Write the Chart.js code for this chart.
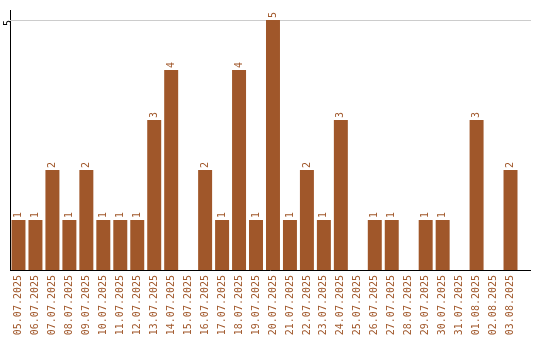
<!DOCTYPE html>
<html>
<head>
<meta charset="utf-8">
<script src="https://cdn.jsdelivr.net/npm/chart.js@4/dist/chart.umd.min.js"></script>
<style>
  html, body { margin: 0; padding: 0; background: #fff; }
  #wrap { width: 540px; height: 340px; }
</style>
</head>
<body>
<div id="wrap"><canvas id="myChart"></canvas></div>
<script>
var days = ["05.07.2025", "06.07.2025", "07.07.2025", "08.07.2025", "09.07.2025",
    "10.07.2025", "11.07.2025", "12.07.2025", "13.07.2025", "14.07.2025",
    "15.07.2025", "16.07.2025", "17.07.2025", "18.07.2025", "19.07.2025",
    "20.07.2025", "21.07.2025", "22.07.2025", "23.07.2025", "24.07.2025",
    "25.07.2025", "26.07.2025", "27.07.2025", "28.07.2025", "29.07.2025",
    "30.07.2025", "31.07.2025", "01.08.2025", "02.08.2025", "03.08.2025"];
var counts = [1, 1, 2, 1, 2, 1, 1, 1, 3, 4,
    0, 2, 1, 4, 1, 5, 1, 2, 1, 3,
    0, 1, 1, 0, 1, 1, 0, 3, 0, 2];
var yTicks = [5];

var brown = '#A0572A';
var mono = "'DejaVu Sans Mono', 'Liberation Mono', monospace";

// grid line at 5 and x axis line run a bit past the last bar, like the original
var linesPlugin = {
    id: 'lines',
    beforeDatasetsDraw: function (chart) {
        var c = chart.ctx, area = chart.chartArea, y = chart.scales.y;
        c.save();
        c.lineWidth = 1;
        c.strokeStyle = '#cccccc';
        yTicks.forEach(function (t) {
            var py = Math.round(y.getPixelForValue(t)) + 0.5;
            c.beginPath();
            c.moveTo(area.left, py);
            c.lineTo(area.right + 12, py);
            c.stroke();
        });
        c.strokeStyle = '#000';
        var by = Math.round(y.getPixelForValue(0)) + 0.5;
        c.beginPath();
        c.moveTo(area.left, by);
        c.lineTo(area.right + 12, by);
        c.stroke();
        c.restore();
    }
};

// value labels above each bar, turned upright
var valuesPlugin = {
    id: 'values',
    afterDatasetsDraw: function (chart) {
        var c = chart.ctx;
        var meta = chart.getDatasetMeta(0);
        c.save();
        c.fillStyle = brown;
        c.font = '10px ' + mono;
        c.textAlign = 'left';
        c.textBaseline = 'middle';
        meta.data.forEach(function (bar, i) {
            if (!counts[i]) return;
            c.save();
            c.translate(bar.x, bar.y - 2);
            c.rotate(-Math.PI / 2);
            c.fillText(String(counts[i]), 0, 0);
            c.restore();
        });
        c.restore();
    }
};

var ctx = document.getElementById("myChart");
var myChart = new Chart(ctx, {
    type: 'bar',
    data: {
        labels: days,
        datasets: [{
            data: counts,
            backgroundColor: brown,
            borderWidth: 0,
            barPercentage: 0.824,
            categoryPercentage: 1
        }]
    },
    options: {
        responsive: true,
        maintainAspectRatio: false,
        animation: false,
        layout: { padding: { top: 10, right: 21, left: 0, bottom: 0 } },
        plugins: {
            legend: { display: false },
            tooltip: { enabled: false }
        },
        scales: {
            x: {
                grid: { display: false, drawTicks: false },
                border: { display: false },
                ticks: {
                    color: brown,
                    font: { family: mono, size: 10 },
                    minRotation: 90,
                    maxRotation: 90,
                    padding: 5,
                    autoSkip: false
                },
                afterFit: function (scale) { scale.height = 70; }
            },
            y: {
                min: 0,
                max: 5.2,
                grid: { display: false, drawTicks: false },
                border: { display: true, color: '#000', width: 1 },
                ticks: {
                    color: '#000',
                    font: { family: mono, size: 10 },
                    minRotation: 90,
                    maxRotation: 90,
                    padding: 2
                },
                afterBuildTicks: function (scale) {
                    scale.ticks = yTicks.map(function (v) { return { value: v }; });
                },
                afterFit: function (scale) { scale.width = 10; }
            }
        }
    },
    plugins: [linesPlugin, valuesPlugin]
});
</script>
</body>
</html>
